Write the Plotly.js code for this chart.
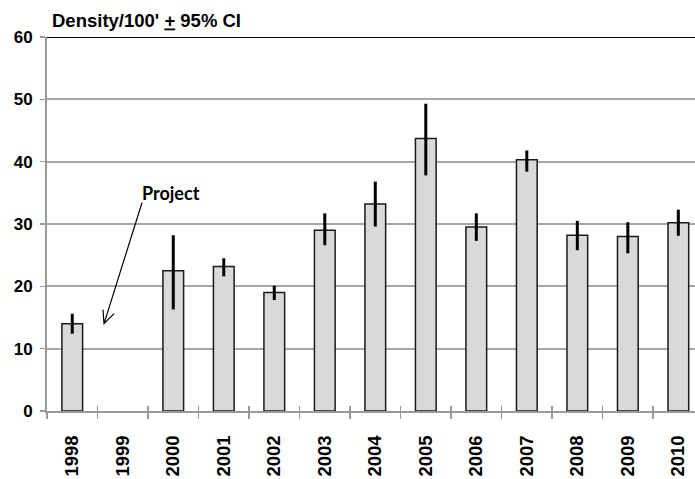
<!DOCTYPE html>
<html>
<head>
<meta charset="utf-8">
<script src="https://cdn.plot.ly/plotly-3.0.1.min.js"></script>
<style>html,body{margin:0;padding:0;background:#fff;}#chart{width:695px;height:479px;}</style>
</head>
<body>
<div id="chart"></div>
<script>
const years = ["1998","1999","2000","2001","2002","2003","2004","2005","2006","2007","2008","2009","2010"];
const density = [14.0, null, 22.5, 23.2, 19.0, 29.0, 33.2, 43.7, 29.5, 40.3, 28.2, 28.0, 30.2];
const ciUpper = [15.6, null, 28.2, 24.5, 20.1, 31.7, 36.8, 49.3, 31.7, 41.8, 30.5, 30.3, 32.3];
const ciLower = [12.4, null, 16.3, 21.6, 17.8, 26.6, 29.6, 37.8, 27.3, 38.4, 25.8, 25.3, 28.1];
const yTicks = [0, 10, 20, 30, 40, 50, 60];

const errPlus = density.map((v, i) => v == null ? null : +(ciUpper[i] - v).toFixed(2));
const errMinus = density.map((v, i) => v == null ? null : +(v - ciLower[i]).toFixed(2));

const FONT = '"Liberation Sans", Arial, sans-serif';

const traces = [
  {
    type: 'bar', x: years, y: density,
    marker: {color: '#d9d9d9', line: {color: '#1a1a1a', width: 1.5}},
    error_y: {type: 'data', symmetric: false, array: errPlus, arrayminus: errMinus,
              color: '#000', thickness: 3, width: 0},
    hoverinfo: 'x+y', showlegend: false
  },
  {
    type: 'bar', x: years, y: years.map(() => null), xaxis: 'x2', yaxis: 'y',
    showlegend: false, hoverinfo: 'skip'
  }
];

const layout = {
  width: 695, height: 479,
  margin: {l: 47, r: 0, t: 37, b: 67.5, pad: 0},
  paper_bgcolor: '#fff', plot_bgcolor: '#fff',
  font: {family: FONT, size: 16, color: '#000', weight: 'bold'},
  title: {text: "<b>Density/100' <u>+</u> 95% CI</b>", x: 52/695, xref: 'container', xanchor: 'left',
          y: 1 - 21/479, yref: 'container', yanchor: 'middle',
          font: {family: FONT, size: 18.5, color: '#000'}},
  bargap: 0.59,
  xaxis: {
    type: 'category', categoryorder: 'array', categoryarray: years,
    range: [-0.5, 12.33], tickson: 'boundaries',
    ticks: 'outside', ticklen: 6, tickwidth: 1.5, tickcolor: '#999',
    showline: true, linecolor: '#999', linewidth: 2,
    showgrid: false, zeroline: false,
    tickangle: -90, ticklabelstandoff: 15,
    tickfont: {family: FONT, size: 18.5, color: '#000', weight: 'bold'}
  },
  xaxis2: {
    type: 'category', categoryorder: 'array', categoryarray: years,
    overlaying: 'x', matches: 'x', anchor: 'y', side: 'bottom',
    tickson: 'boundaries', ticks: 'inside', ticklen: 5, tickwidth: 1.5, tickcolor: '#999',
    showticklabels: false, showline: false, showgrid: false, zeroline: false
  },
  yaxis: {
    range: [0, 60], tickvals: yTicks, ticktext: yTicks.map(String),
    ticks: 'outside', ticklen: 5, tickwidth: 1.5, tickcolor: '#999',
    showline: true, linecolor: '#999', linewidth: 2,
    showgrid: true, gridcolor: '#a6a6a6', gridwidth: 2, zeroline: false,
    ticklabelstandoff: 4,
    tickfont: {family: FONT, size: 17, color: '#000', weight: 'bold'}
  },
  shapes: [
    {type: 'line', xref: 'paper', yref: 'y', x0: 0, x1: 1, y0: 60, y1: 60,
     line: {color: '#000', width: 2}},
    {type: 'path', xref: 'paper', yref: 'paper',
     path: 'M 0.1466 0.5567 L 0.0880 0.2336 M 0.0864 0.2710 L 0.0880 0.2336 L 0.1034 0.2603',
     line: {color: '#000', width: 1.2}}
  ],
  annotations: [
    {text: '<b>Project</b>', xref: 'paper', yref: 'paper', x: 0.1914, y: 0.5834,
     xanchor: 'center', yanchor: 'middle', showarrow: false,
     font: {family: 'Lato, "Open Sans", sans-serif', size: 18, color: '#000'}}
  ]
};

Plotly.newPlot('chart', traces, layout, {staticPlot: true, displayModeBar: false});
</script>
</body>
</html>
